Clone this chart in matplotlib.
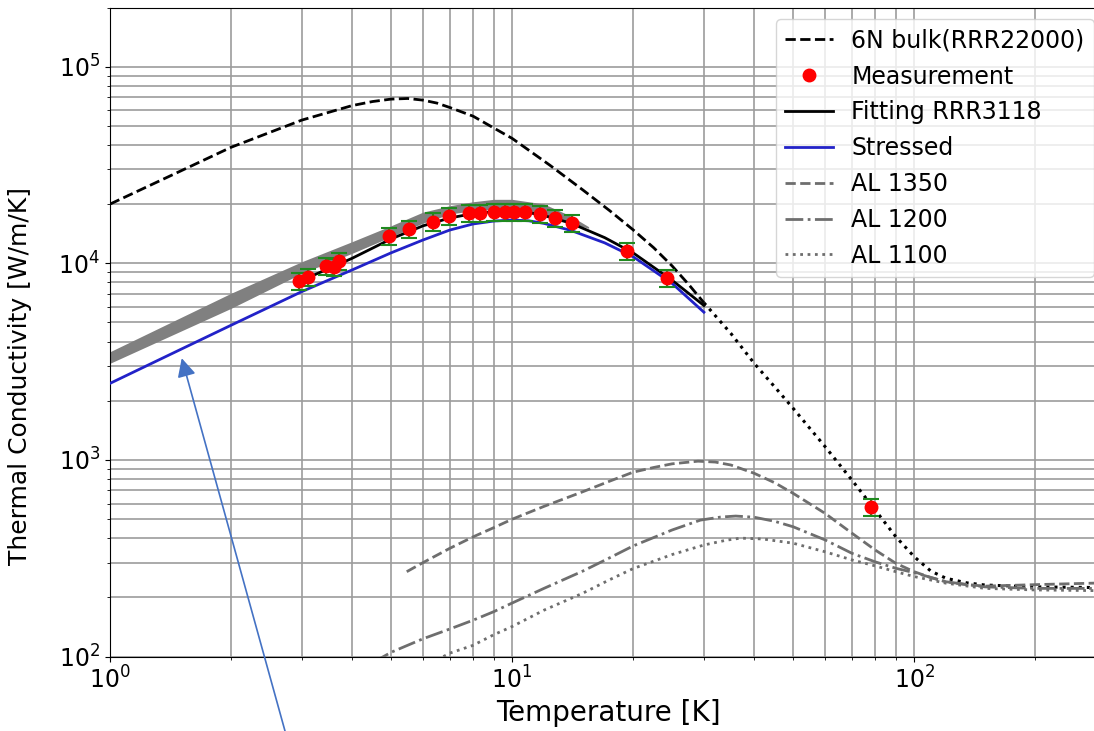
import numpy as np
import matplotlib
matplotlib.use('Agg')
import matplotlib.pyplot as plt

# 6N bulk (RRR22000): dashed up to 30 K, dotted above
bulk_T = [1, 1.5, 2, 3, 4, 4.5, 5, 5.5, 6, 6.5, 7, 8, 9, 10, 12.4, 15, 17.5, 20, 22.5, 25, 27.5, 30]
bulk_k = [20000, 29500, 38900, 53500, 63400, 66500, 68400, 68900, 67600, 65300, 62000, 56000, 48800, 43200,
          31600, 23600, 18500, 14800, 12000, 9700, 7800, 6300]
bulk_T2 = [30, 35, 40, 45, 50, 60, 70, 80, 90, 100, 110, 120, 135, 150, 200, 300]
bulk_k2 = [6300, 4400, 3100, 2350, 1830, 1170, 790, 556, 407, 322, 272, 250, 237, 231, 226, 224]

# measurement points
meas_T = [2.96, 3.11, 3.44, 3.61, 3.72, 4.94, 5.55, 6.37, 6.98, 7.82, 8.33, 9.03,
          9.61, 10.13, 10.77, 11.74, 12.8, 14.13, 19.3, 24.3, 78.2]
meas_k = [8160, 8550, 9690, 9610, 10310, 13800, 14900, 16300, 17400, 17950, 17950, 18300,
          18300, 18300, 18300, 17750, 17060, 16090, 11510, 8410, 578]

# fitting RRR3118
fit_T = [2.9, 3.5, 4, 5, 6, 7, 8, 9, 10, 11, 12, 14, 17, 20, 25, 30]
fit_k = [7950, 9400, 10600, 13300, 15500, 17000, 17900, 18300, 18350, 18100, 17500, 16000, 13500, 11300, 8200, 6100]

# stressed
str_T = [1, 1.5, 2, 3, 4, 5, 6, 7, 8, 9, 10, 11, 12, 14, 17, 20, 25, 30]
str_k = [2450, 3650, 4840, 7180, 9250, 11300, 13130, 14760, 15850, 16400, 16600, 16450, 15960, 14700,
         12700, 10800, 7900, 5640]

# gray band
band_T = [1, 2, 3, 4, 5, 6, 7, 8, 9, 10, 12, 14, 15.5]
band_hi = [3550, 7040, 10190, 12880, 15520, 18200, 19630, 20560, 21150, 21150, 20030, 17390, 15350]
band_lo = [3100, 5900, 8890, 11240, 13650, 16000, 17800, 18540, 18840, 18660, 17620, 15960, 15070]

# aluminium alloys
al1350_T = [5.47, 6, 7, 8, 9, 10, 12, 15, 17.5, 20, 22.5, 25, 29, 32, 35, 40, 45, 50, 60, 70, 80, 90,
            100, 110, 120, 135, 150, 200, 300]
al1350_k = [270, 300, 355, 406, 452, 499, 580, 689, 780, 866, 915, 955, 985, 975, 942, 855, 765, 676,
            535, 424, 348, 298, 270, 252, 240, 232, 228, 232, 237]
al1200_T = [4.5, 5, 6, 7, 8, 9, 10, 12, 15, 17.5, 20, 25, 29.4, 33, 36, 40, 45, 50, 60, 70, 80, 90,
            100, 120, 150, 200, 300]
al1200_k = [93, 105, 123, 138, 153, 169, 187, 222, 272, 318, 365, 440, 494, 512, 518, 511, 487, 457,
            392, 335, 303, 281, 267, 240, 226, 222, 222]
al1100_T = [6.5, 7, 8, 9, 10, 12, 15, 17.5, 20, 25, 30, 34, 37, 42, 50, 60, 70, 80, 90, 100, 120, 150,
            200, 300]
al1100_k = [96, 104, 114, 129, 142, 172, 210, 246, 280, 330, 369, 390, 400, 396, 377, 341, 310, 289,
            270, 255, 236, 222, 218, 216]

fig = plt.figure(figsize=(10.94, 7.31), dpi=100)
ax = fig.add_axes([110 / 1094, 74.5 / 731, 996 / 1094, 649 / 731])
ax.set_xscale('log')
ax.set_yscale('log')

ax.fill_between(band_T, band_lo, band_hi, color='gray', lw=0, zorder=2)

l1, = ax.plot(bulk_T, bulk_k, 'k--', lw=2, label='6N bulk(RRR22000)', zorder=3)
ax.plot(bulk_T2, bulk_k2, 'k:', lw=2.2, zorder=3)
l3, = ax.plot(fit_T, fit_k, 'k-', lw=2, label='Fitting RRR3118', zorder=3)
l4, = ax.plot(str_T, str_k, color='#2222c8', lw=2, label='Stressed', zorder=3)
l5, = ax.plot(al1350_T, al1350_k, '--', color='#6e6e6e', lw=2, label='AL 1350', zorder=3)
l6, = ax.plot(al1200_T, al1200_k, '-.', color='#6e6e6e', lw=2, label='AL 1200', zorder=3)
l7, = ax.plot(al1100_T, al1100_k, ':', color='#6e6e6e', lw=2, label='AL 1100', zorder=3)

meas_k_arr = np.array(meas_k)
ax.errorbar(meas_T, meas_k, yerr=0.1 * meas_k_arr, fmt='none', ecolor='#1f8a1f',
            elinewidth=1.5, capsize=6, capthick=1.5, zorder=4)
l2, = ax.plot(meas_T, meas_k, 'o', color='red', ms=9, label='Measurement', zorder=5)

ax.set_xlim(1, 300)
ax.set_ylim(100, 2e5)

ax.grid(True, which='both', color='#9c9c9c', lw=1.2)
ax.tick_params(labelsize=17)
ax.set_xlabel('Temperature [K]', fontsize=20)
ax.set_ylabel('Thermal Conductivity [W/m/K]', fontsize=18)
ax.yaxis.set_label_coords(-0.078, 0.432)

ax.legend(handles=[l1, l2, l3, l4, l5, l6, l7], loc='upper right', fontsize=17)

# hand-drawn pointer arrow
ax.annotate('', xy=(1.508, 3290), xycoords='data',
            xytext=(285 / 1094, 0.0), textcoords='figure fraction',
            arrowprops=dict(arrowstyle='-|>', color='#4472c4', lw=1.2,
                            mutation_scale=28, shrinkA=0, shrinkB=0),
            annotation_clip=False)

plt.savefig('out.png', dpi=100)
